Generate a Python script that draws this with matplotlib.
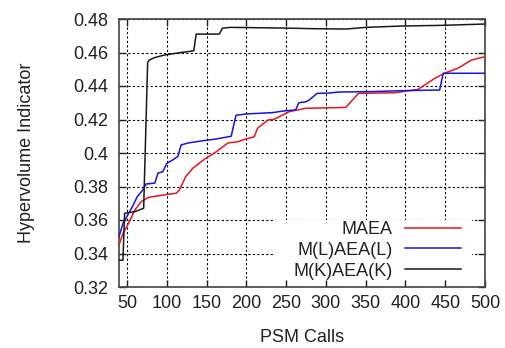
import matplotlib
matplotlib.use("Agg")
import matplotlib.pyplot as plt
from matplotlib.ticker import FuncFormatter
from matplotlib.patches import Rectangle

plt.rcParams['font.family'] = ['Liberation Sans', 'DejaVu Sans']

# ---- data ----
maea_x = [40, 45, 52, 60, 68, 77, 97, 112, 116, 124, 133, 148, 160, 177, 189, 197,
          210, 214, 227, 235, 254, 275, 325, 341, 387, 416, 437, 449, 466, 483, 500]
maea_y = [0.345, 0.352, 0.358, 0.366, 0.371, 0.3735, 0.375, 0.376, 0.378, 0.386, 0.391,
          0.3965, 0.400, 0.406, 0.4067, 0.408, 0.4097, 0.4147, 0.4197, 0.4201, 0.4247,
          0.4267, 0.4272, 0.4356, 0.436, 0.438, 0.4446, 0.4476, 0.4506, 0.4555, 0.4575]

ml_x = [40, 45, 51, 58, 63, 70, 74, 85, 89, 95, 100, 108, 114, 118, 127, 145, 160, 181,
        187, 200, 216, 233, 247, 262, 266, 275, 279, 289, 304, 316, 354, 395, 443, 447.5, 500]
ml_y = [0.350, 0.358, 0.363, 0.369, 0.374, 0.378, 0.3815, 0.382, 0.388, 0.3888, 0.3938,
        0.396, 0.398, 0.4048, 0.406, 0.4073, 0.4082, 0.410, 0.4225, 0.4233, 0.4237, 0.4241,
        0.4251, 0.4257, 0.430, 0.4306, 0.4316, 0.4356, 0.4358, 0.4364, 0.4366, 0.4372,
        0.4376, 0.4476, 0.4476]

mk_x = [40, 45, 47, 60, 71, 76, 78, 85, 97, 118, 134, 137, 166, 170, 180, 245, 287,
        325, 350, 395, 445, 500]
mk_y = [0.336, 0.336, 0.364, 0.365, 0.367, 0.454, 0.4555, 0.457, 0.4585, 0.460, 0.461,
        0.471, 0.471, 0.4745, 0.475, 0.4746, 0.4742, 0.474, 0.475, 0.4758, 0.4762, 0.477]

series_labels = ['MAEA', 'M(L)AEA(L)', 'M(K)AEA(K)']
x_ticks = list(range(50, 501, 50))
y_ticks = [0.32, 0.34, 0.36, 0.38, 0.40, 0.42, 0.44, 0.46, 0.48]

# ---- figure ----
fig = plt.figure(figsize=(5.06, 3.48), dpi=100)
ax = fig.add_axes([119/506, 1-287/348, (485-119)/506, (287-19)/348])

ax.plot(maea_x, maea_y, color='#e8141e', lw=1.1, label=series_labels[0], zorder=3)
ax.plot(ml_x, ml_y, color='#1414e6', lw=1.1, label=series_labels[1], zorder=3)
ax.plot(mk_x, mk_y, color='#1a1a1a', lw=1.1, label=series_labels[2], zorder=3)

ax.set_xlim(40, 500)
ax.set_ylim(0.32, 0.48)
ax.set_xticks(x_ticks)
ax.set_yticks(y_ticks)
ax.yaxis.set_major_formatter(FuncFormatter(lambda v, p: f"{v:g}"))

ax.grid(True, color='black', linestyle=(0, (2, 2)), linewidth=0.8)
ax.set_axisbelow(True)
ax.tick_params(axis='both', direction='in', length=5, width=1, top=True, right=True,
               labelsize=13, colors='#222222')
ax.tick_params(axis='y', pad=8)
ax.tick_params(axis='x', pad=6)
for s in ax.spines.values():
    s.set_color('#444444')
    s.set_linewidth(1.2)

ax.set_xlabel('PSM Calls', fontsize=13, color='#222222', labelpad=12)
ax.set_ylabel('Hypervolume Indicator', fontsize=13, color='#222222', labelpad=27)

# opaque key area (covers grid behind the key, as in the reference)
ax.add_patch(Rectangle((0.4208, 0.029), 0.5437, 0.221, transform=ax.transAxes,
                       facecolor='white', edgecolor='none', zorder=1))

leg = ax.legend(loc='lower right', bbox_to_anchor=((461-119)/366, 0.027),
                frameon=False, markerfirst=False, fontsize=13,
                handlelength=3.1, handletextpad=0.7, labelspacing=0.22,
                borderpad=0, borderaxespad=0)
for t in leg.get_texts():
    t.set_ha('right')
    t.set_color('#222222')
leg._legend_box.align = "right"

fig.savefig('out.png', dpi=100)
